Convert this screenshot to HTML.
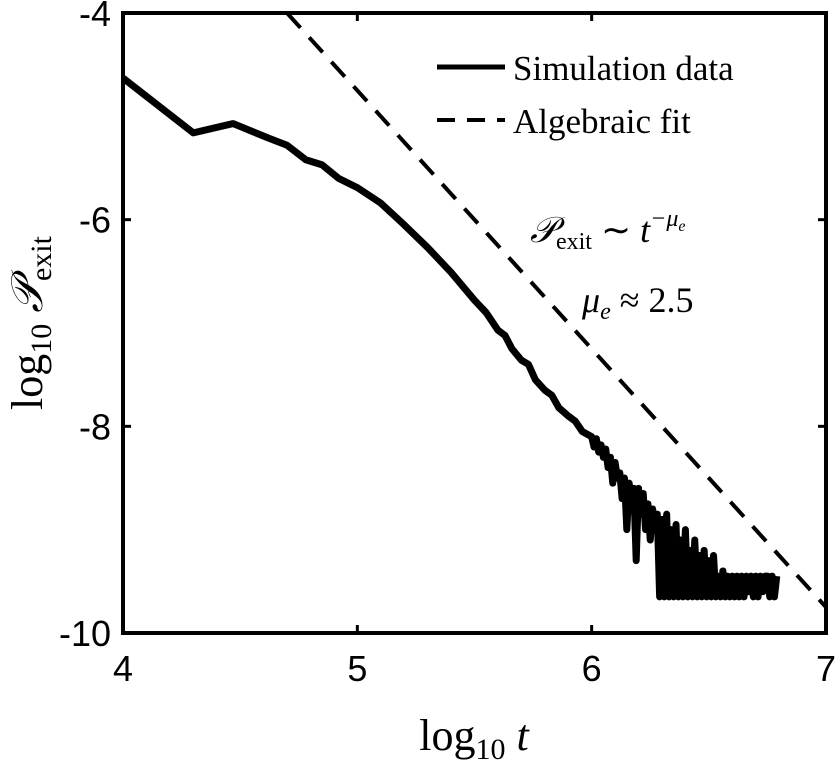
<!DOCTYPE html>
<html><head><meta charset="utf-8"><style>
body{margin:0;background:#fff}
svg{display:block}
.tk{font-family:"Liberation Sans",sans-serif;font-size:36px}
.sr{font-family:"Liberation Serif",serif}
</style></head><body>
<svg id="chart" width="840" height="763"></svg>
<script>
const xTicks=[4,5,6,7];
const yTicks=[-4,-6,-8,-10];
const simX=[4.0,4.3,4.47,4.62,4.7,4.78,4.85,4.92,5.0,5.1,5.2,5.3,5.4,5.5,5.55,5.6,5.63,5.66,5.7,5.73,5.76,5.8,5.83,5.86,5.9,5.93,5.96];
const simY=[-4.63,-5.16,-5.07,-5.21,-5.28,-5.42,-5.47,-5.6,-5.69,-5.84,-6.05,-6.27,-6.51,-6.78,-6.9,-7.07,-7.12,-7.25,-7.36,-7.4,-7.55,-7.65,-7.7,-7.82,-7.9,-7.95,-8.05];
const tailY=[-8.1,-8.2,-8.12,-8.25,-8.18,-8.3,-8.22,-8.4,-8.3,-8.55,-8.35,-8.5,-8.45,-8.7,-8.5,-9.0,-8.55,-8.75,-8.6,-9.3,-8.6,-8.85,-8.65,-9.0,-8.75,-9.1,-8.8,-9.0,-8.85,-9.65,-8.9,-9.65,-8.85,-9.65,-9.0,-9.65,-8.95,-9.65,-9.1,-9.65,-9.0,-9.65,-9.2,-9.65,-9.1,-9.65,-9.25,-9.65,-9.2,-9.65,-9.3,-9.65,-9.25,-9.65,-9.45,-9.65,-9.4,-9.65,-9.45,-9.65,-9.45,-9.65,-9.45,-9.65,-9.45,-9.65,-9.45,-9.6,-9.45,-9.65,-9.45,-9.65,-9.45,-9.6,-9.45,-9.45,-9.65,-9.45,-9.65,-9.45];
const fitX=[4.7,7.0];
const fitSlope=-2.5, fitY0=-4.0;
const L=123,R=826,T=13,B=633;
const sx=v=>L+(v-4)/3*(R-L);
const sy=v=>T+(-4-v)/6*(B-T);
const svg=document.getElementById('chart');
const NS='http://www.w3.org/2000/svg';
function mk(tag,attrs,parent){const e=document.createElementNS(NS,tag);for(const k in attrs)e.setAttribute(k,attrs[k]);(parent||svg).appendChild(e);return e;}
const fit=mk('line',{x1:sx(fitX[0]),y1:sy(fitY0),x2:sx(fitX[1]),y2:sy(fitY0+fitSlope*(fitX[1]-fitX[0])),stroke:'#000','stroke-width':4,'stroke-dasharray':'20 13'});


let pts=simX.map((x,i)=>sx(x)+','+sy(simY[i]));
tailY.forEach((y,i)=>pts.push(sx(6.0+i*0.01)+','+sy(y)));
const sim=mk('polyline',{points:pts.join(' '),fill:'none',stroke:'#000','stroke-width':7,'stroke-linejoin':'round'});


const box=mk('rect',{x:L,y:T,width:R-L,height:B-T,fill:'none',stroke:'#000','stroke-width':4});


xTicks.forEach(v=>{
  const x=sx(v);
  mk('line',{x1:x,y1:B,x2:x,y2:B-8,stroke:'#000','stroke-width':3});
  mk('line',{x1:x,y1:T,x2:x,y2:T+8,stroke:'#000','stroke-width':3});
  const t=mk('text',{x:x,y:B+48,'text-anchor':'middle',class:'tk'});t.textContent=v;
  
  
});
yTicks.forEach(v=>{
  const y=sy(v);
  mk('line',{x1:L,y1:y,x2:L+8,y2:y,stroke:'#000','stroke-width':3});
  mk('line',{x1:R,y1:y,x2:R-8,y2:y,stroke:'#000','stroke-width':3});
  const t=mk('text',{x:L-12,y:y+13,'text-anchor':'end',class:'tk'});t.textContent=v;
  
  
});
</script>
<svg width="840" height="763" style="position:absolute;left:0;top:0">
<g>
<line x1="437" y1="67" x2="505" y2="67" stroke="#000" stroke-width="5"/>
<text x="513" y="80" class="sr" font-size="35">Simulation data</text>
<line x1="437" y1="120" x2="505" y2="120" stroke="#000" stroke-width="4" stroke-dasharray="18 12"/>
<text x="513" y="133" class="sr" font-size="35">Algebraic fit</text>
</g>
<text x="530" y="242" class="sr" font-size="36" font-style="italic">𝒫<tspan font-style="normal" font-size="24" dy="7">exit</tspan><tspan dy="-7" font-style="normal"> ∼ </tspan>t<tspan font-size="24" dy="-16">−μ</tspan><tspan font-size="16" dy="5">e</tspan></text>
<text x="582" y="312" class="sr" font-size="36" font-style="italic">μ<tspan font-size="24" dy="7">e</tspan><tspan dy="-7" font-style="normal"> ≈ 2.5</tspan></text>
<text x="474" y="750" text-anchor="middle" class="sr" font-size="44">log<tspan font-size="30" dy="9">10</tspan><tspan dy="-9" font-style="italic"> t</tspan></text>
<text transform="translate(42,323) rotate(-90)" text-anchor="middle" class="sr" font-size="44">log<tspan font-size="30" dy="9">10</tspan><tspan dy="-9" font-style="italic"> 𝒫</tspan><tspan font-size="30" dy="9">exit</tspan></text>
</svg>
</body></html>
